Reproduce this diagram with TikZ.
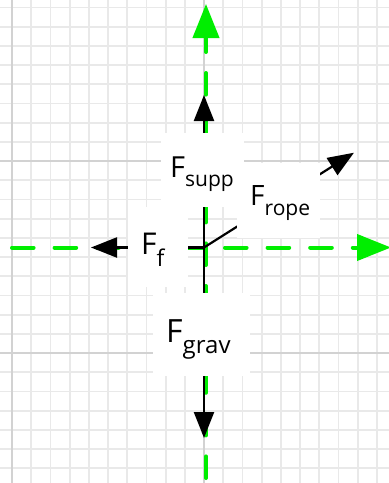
\documentclass[tikz,border=0pt]{standalone}
\usepackage{fontspec}
\setmainfont{Open Sans}
\usetikzlibrary{arrows.meta}
\definecolor{axisgreen}{HTML}{00EE00}
\definecolor{minorgray}{HTML}{E9E9E9}
\definecolor{majorgray}{HTML}{D2D2D2}
\newcommand{\Fsub}[4]{{\fontsize{#2}{#2}\selectfont F}\raisebox{-#4pt}{\fontsize{#3}{#3}\selectfont #1}}
\tikzset{
  minorgrid/.style={draw=minorgray, line width=1.8pt},
  majorgrid/.style={draw=majorgray, line width=1.8pt},
  axis/.style={draw=axisgreen, line width=4pt, line cap=round,
    dash pattern=on 21.6pt off 21pt,
    -{Triangle[length=34pt,width=26pt,fill=axisgreen,line cap=butt,sep=0pt]}},
  force/.style={draw=black, line width=2.2pt,
    -{Triangle[length=26pt,width=20pt,fill=black]}},
  labelbox/.style={rectangle, fill=white, draw=none, inner sep=0pt},
  ftext/.style={anchor=base west, inner sep=0pt, text=black}
}
\begin{document}
\begin{tikzpicture}[x=1pt,y=-1pt]
\useasboundingbox (0,0) rectangle (389,483);
\fill[white] (0,0) rectangle (389,483);
% grid
\foreach \k in {0,...,20} \draw[minorgrid] ({12+19.2*\k},0) -- ({12+19.2*\k},483);
\foreach \k in {-8,...,16} \draw[minorgrid] (0,{161+19.2*\k}) -- (389,{161+19.2*\k});
\foreach \x in {12,204} \draw[majorgrid] (\x,0) -- (\x,483);
\foreach \y in {161,353} \draw[majorgrid] (0,\y) -- (389,\y);
% axes
\coordinate (vBot) at (206,478);
\coordinate (vTop) at (206,4);
\coordinate (hL) at (12,247.5);
\coordinate (hR) at (391,247.5);
\draw[axis] (vBot) -- (vTop);
\draw[axis] (hL) -- (hR);
% forces
\coordinate (O) at (204,247.5);
\coordinate (suppTip) at (204,95);
\coordinate (gravTip) at (204,438);
\coordinate (fTip) at (91,247.5);
\coordinate (ropeTip) at (354,152.7);
\draw[force] (O) -- (suppTip);
\draw[force] (O) -- (gravTip);
\draw[force] (O) -- (fTip);
\draw[force] (O) -- (ropeTip);
% label boxes
\node[labelbox, minimum width=83pt, minimum height=74pt] (suppBox) at (202.5,170) {};
\node[labelbox, minimum width=83pt, minimum height=75pt] (ropeBox) at (278.5,200.5) {};
\node[labelbox, minimum width=60pt, minimum height=80pt] (fBox) at (158,247) {};
\node[labelbox, minimum width=97pt, minimum height=83pt] (gravBox) at (201.5,334.5) {};
% labels
\node[ftext] (suppLabel) at (170,177) {\Fsub{supp}{29}{21}{9}};
\node[ftext] (ropeLabel) at (250,205) {\Fsub{rope}{28}{21}{10}};
\node[ftext] (fLabel) at (141,254) {\Fsub{f}{30}{23}{12}};
\node[ftext] (gravLabel) at (166,342) {\Fsub{grav}{32}{24}{11}};
\end{tikzpicture}
\end{document}
